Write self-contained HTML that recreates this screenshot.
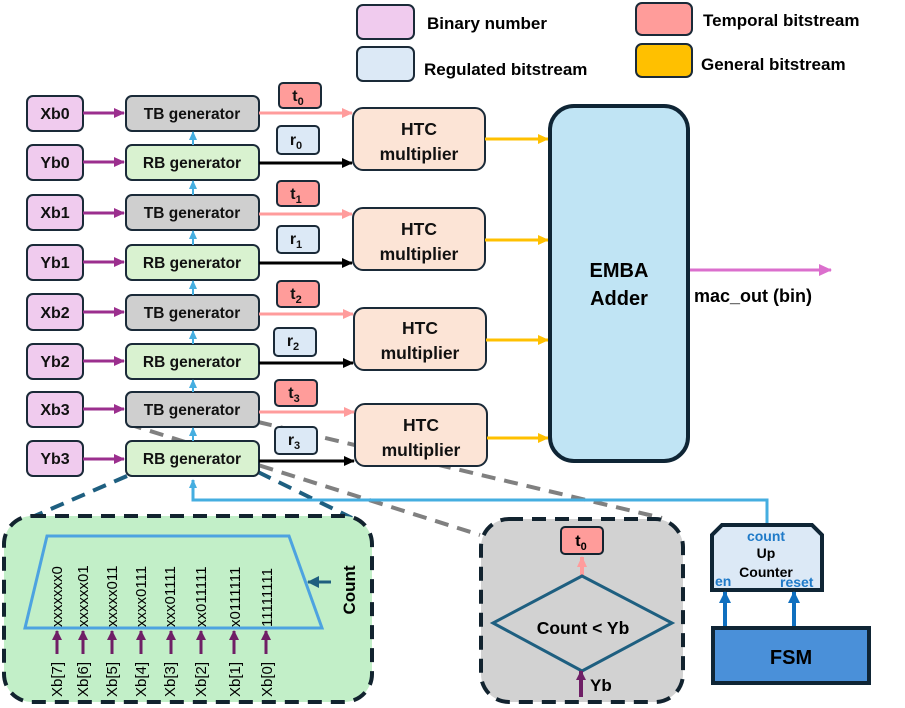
<!DOCTYPE html>
<html><head><meta charset="utf-8"><style>
html,body{margin:0;padding:0;background:#fff;}
svg{display:block;font-family:"Liberation Sans",sans-serif;font-weight:bold;}
</style></head><body>
<svg width="905" height="708" viewBox="0 0 905 708" xmlns="http://www.w3.org/2000/svg">
<defs>
<marker id="mp" markerWidth="12" markerHeight="12" refX="10" refY="5" orient="auto" markerUnits="userSpaceOnUse"><path d="M0,0 L11,5 L0,10 z" fill="#9b2f8e"/></marker>
<marker id="mpk" markerWidth="12" markerHeight="12" refX="10" refY="5" orient="auto" markerUnits="userSpaceOnUse"><path d="M0,0 L11,5 L0,10 z" fill="#ff9c9c"/></marker>
<marker id="mk" markerWidth="12" markerHeight="12" refX="10" refY="5" orient="auto" markerUnits="userSpaceOnUse"><path d="M0,0 L11,5 L0,10 z" fill="#000"/></marker>
<marker id="my" markerWidth="12" markerHeight="12" refX="10" refY="5" orient="auto" markerUnits="userSpaceOnUse"><path d="M0,0 L11,5 L0,10 z" fill="#ffc000"/></marker>
<marker id="mb" markerWidth="10" markerHeight="10" refX="8" refY="4" orient="auto" markerUnits="userSpaceOnUse"><path d="M0,0 L9,4 L0,8 z" fill="#45aee0"/></marker>
<marker id="mm" markerWidth="14" markerHeight="14" refX="12" refY="6" orient="auto" markerUnits="userSpaceOnUse"><path d="M0,0 L13,6 L0,12 z" fill="#db6fcd"/></marker>
<marker id="mdb" markerWidth="12" markerHeight="12" refX="11" refY="6" orient="auto" markerUnits="userSpaceOnUse"><path d="M0,0 L12,6 L0,12 z" fill="#0f6fbf"/></marker>
<marker id="mt" markerWidth="12" markerHeight="12" refX="11" refY="6" orient="auto" markerUnits="userSpaceOnUse"><path d="M0,0 L12,6 L0,12 z" fill="#1f5f7f"/></marker>
<marker id="mpu" markerWidth="10" markerHeight="10" refX="9" refY="5" orient="auto" markerUnits="userSpaceOnUse"><path d="M0,0 L10,5 L0,10 z" fill="#6f1f66"/></marker>
</defs>

<rect x="357" y="5" width="57" height="34" rx="6" fill="#f0cbee" stroke="#1a2a38" stroke-width="2"/>
<text x="427" y="29" font-size="17">Binary number</text>
<rect x="357" y="47" width="57" height="34" rx="6" fill="#dce9f6" stroke="#1a2a38" stroke-width="2"/>
<text x="424" y="75" font-size="17">Regulated bitstream</text>
<rect x="636" y="3" width="56" height="32" rx="6" fill="#ff9c9a" stroke="#1a2a38" stroke-width="2"/>
<text x="703" y="26" font-size="17">Temporal bitstream</text>
<rect x="636" y="44" width="56" height="33" rx="6" fill="#ffc000" stroke="#1a2a38" stroke-width="2"/>
<text x="701" y="70" font-size="17">General bitstream</text>

<g fill="none" stroke-width="4" stroke-dasharray="14,9">
<line x1="128" y1="424" x2="480" y2="535" stroke="#808080"/>
<line x1="258" y1="422" x2="662" y2="518" stroke="#808080"/>
<line x1="127" y1="476" x2="30" y2="518" stroke="#1e5f80"/>
<line x1="258" y1="472" x2="352" y2="518" stroke="#1e5f80"/>
</g>

<polyline points="767,525 767,500 193,500 193,480" fill="none" stroke="#45aee0" stroke-width="3" marker-end="url(#mb)"/>

<g stroke="#1a2a38" stroke-width="2">
<rect x="27" y="96" width="56" height="35" rx="6" fill="#f0cbee"/>
<rect x="27" y="145" width="56" height="35" rx="6" fill="#f0cbee"/>
<rect x="126" y="96" width="133" height="35" rx="6" fill="#cfcfcf"/>
<rect x="126" y="145" width="133" height="35" rx="6" fill="#d9f2d0"/>
<rect x="279" y="83" width="42" height="25" rx="4" fill="#ff9c9a"/>
<rect x="277" y="126" width="42" height="28" rx="4" fill="#dce9f6"/>
<rect x="353" y="108" width="132" height="62" rx="10" fill="#fce4d6"/>
<rect x="27" y="195" width="56" height="35" rx="6" fill="#f0cbee"/>
<rect x="27" y="245" width="56" height="35" rx="6" fill="#f0cbee"/>
<rect x="126" y="195" width="133" height="35" rx="6" fill="#cfcfcf"/>
<rect x="126" y="245" width="133" height="35" rx="6" fill="#d9f2d0"/>
<rect x="277" y="181" width="42" height="25" rx="4" fill="#ff9c9a"/>
<rect x="277" y="226" width="42" height="27" rx="4" fill="#dce9f6"/>
<rect x="353" y="208" width="132" height="62" rx="10" fill="#fce4d6"/>
<rect x="27" y="294" width="56" height="36" rx="6" fill="#f0cbee"/>
<rect x="27" y="344" width="56" height="35" rx="6" fill="#f0cbee"/>
<rect x="126" y="295" width="133" height="35" rx="6" fill="#cfcfcf"/>
<rect x="126" y="344" width="133" height="35" rx="6" fill="#d9f2d0"/>
<rect x="277" y="281" width="42" height="26" rx="4" fill="#ff9c9a"/>
<rect x="274" y="328" width="42" height="28" rx="4" fill="#dce9f6"/>
<rect x="354" y="308" width="132" height="62" rx="10" fill="#fce4d6"/>
<rect x="27" y="392" width="56" height="35" rx="6" fill="#f0cbee"/>
<rect x="27" y="441" width="56" height="35" rx="6" fill="#f0cbee"/>
<rect x="126" y="392" width="133" height="35" rx="6" fill="#cfcfcf"/>
<rect x="126" y="441" width="133" height="35" rx="6" fill="#d9f2d0"/>
<rect x="275" y="380" width="42" height="26" rx="4" fill="#ff9c9a"/>
<rect x="275" y="427" width="42" height="27" rx="4" fill="#dce9f6"/>
<rect x="355" y="404" width="132" height="62" rx="10" fill="#fce4d6"/>
</g>

<g font-size="16" text-anchor="middle" fill="#111">
<text x="55" y="119">Xb0</text><text x="55" y="168">Yb0</text>
<text x="55" y="218">Xb1</text><text x="55" y="268">Yb1</text>
<text x="55" y="318">Xb2</text><text x="55" y="367">Yb2</text>
<text x="55" y="415">Xb3</text><text x="55" y="464">Yb3</text>
<g font-size="15.5">
<text x="192" y="119">TB generator</text><text x="192" y="168">RB generator</text>
<text x="192" y="218">TB generator</text><text x="192" y="268">RB generator</text>
<text x="192" y="318">TB generator</text><text x="192" y="367">RB generator</text>
<text x="192" y="415">TB generator</text><text x="192" y="464">RB generator</text>
</g>
<g font-size="17.5">
<text x="419" y="135">HTC</text><text x="419" y="160">multiplier</text>
<text x="419" y="235">HTC</text><text x="419" y="260">multiplier</text>
<text x="420" y="334">HTC</text><text x="420" y="359">multiplier</text>
<text x="421" y="431">HTC</text><text x="421" y="456">multiplier</text>
</g>
<g font-size="16">
<text x="298" y="101">t<tspan font-size="11" dy="4">0</tspan></text>
<text x="296" y="145">r<tspan font-size="11" dy="4">0</tspan></text>
<text x="296" y="199">t<tspan font-size="11" dy="4">1</tspan></text>
<text x="296" y="244">r<tspan font-size="11" dy="4">1</tspan></text>
<text x="296" y="299">t<tspan font-size="11" dy="4">2</tspan></text>
<text x="293" y="346">r<tspan font-size="11" dy="4">2</tspan></text>
<text x="294" y="398">t<tspan font-size="11" dy="4">3</tspan></text>
<text x="294" y="445">r<tspan font-size="11" dy="4">3</tspan></text>
</g>
</g>

<g stroke-width="3" fill="none">
<g stroke="#9b2f8e" marker-end="url(#mp)">
<line x1="83" y1="113" x2="124" y2="113"/><line x1="83" y1="162" x2="124" y2="162"/>
<line x1="83" y1="213" x2="124" y2="213"/><line x1="83" y1="262" x2="124" y2="262"/>
<line x1="83" y1="312" x2="124" y2="312"/><line x1="83" y1="361" x2="124" y2="361"/>
<line x1="83" y1="409" x2="124" y2="409"/><line x1="83" y1="459" x2="124" y2="459"/>
</g>
<g stroke="#ff9c9c" marker-end="url(#mpk)">
<line x1="259" y1="113" x2="352" y2="113"/><line x1="259" y1="214" x2="352" y2="214"/>
<line x1="259" y1="314" x2="353" y2="314"/><line x1="259" y1="412" x2="354" y2="412"/>
</g>
<g stroke="#000" marker-end="url(#mk)">
<line x1="259" y1="163" x2="352" y2="163"/><line x1="259" y1="263" x2="352" y2="263"/>
<line x1="259" y1="363" x2="353" y2="363"/><line x1="259" y1="461" x2="354" y2="461"/>
</g>
<g stroke="#ffc000" marker-end="url(#my)">
<line x1="485" y1="139" x2="548" y2="139"/><line x1="485" y1="240" x2="548" y2="240"/>
<line x1="486" y1="340" x2="548" y2="340"/><line x1="487" y1="438" x2="548" y2="438"/>
</g>
<g stroke="#45aee0" stroke-width="2" marker-end="url(#mb)">
<line x1="193" y1="145" x2="193" y2="132"/><line x1="193" y1="195" x2="193" y2="181"/>
<line x1="193" y1="245" x2="193" y2="231"/><line x1="193" y1="295" x2="193" y2="281"/>
<line x1="193" y1="344" x2="193" y2="331"/><line x1="193" y1="392" x2="193" y2="380"/>
<line x1="193" y1="441" x2="193" y2="428"/>
</g>
<line x1="690" y1="270" x2="831" y2="270" stroke="#db6fcd" marker-end="url(#mm)"/>
</g>

<rect x="550" y="106" width="138" height="355" rx="24" fill="#c0e4f4" stroke="#0f2535" stroke-width="4"/>
<text x="619" y="277" font-size="20" text-anchor="middle">EMBA</text>
<text x="619" y="305" font-size="20" text-anchor="middle">Adder</text>
<text x="694" y="302" font-size="18">mac_out (bin)</text>

<rect x="4" y="516" width="368" height="186" rx="28" fill="#c2efc8" stroke="#12232f" stroke-width="4" stroke-dasharray="14,9"/>
<polygon points="47,536 289,536 322,628 25,628" fill="none" stroke="#4da3e0" stroke-width="3"/>
<line x1="331" y1="582" x2="308" y2="582" stroke="#1f5f7f" stroke-width="3" marker-end="url(#mt)"/>
<text transform="translate(355,590) rotate(-90)" font-size="17" text-anchor="middle">Count</text>
<g font-size="15" font-weight="normal" fill="#000">
<text transform="translate(62,627) rotate(-90)">xxxxxxx0</text>
<text transform="translate(88,627) rotate(-90)">xxxxxx01</text>
<text transform="translate(117,627) rotate(-90)">xxxxx011</text>
<text transform="translate(146,627) rotate(-90)">xxxx0111</text>
<text transform="translate(175,627) rotate(-90)">xxx01111</text>
<text transform="translate(206,627) rotate(-90)">xx011111</text>
<text transform="translate(240,627) rotate(-90)">x0111111</text>
<text transform="translate(272,627) rotate(-90)">11111111</text>
<text transform="translate(62,697) rotate(-90)">Xb[7]</text>
<text transform="translate(88,697) rotate(-90)">Xb[6]</text>
<text transform="translate(117,697) rotate(-90)">Xb[5]</text>
<text transform="translate(146,697) rotate(-90)">Xb[4]</text>
<text transform="translate(175,697) rotate(-90)">Xb[3]</text>
<text transform="translate(206,697) rotate(-90)">Xb[2]</text>
<text transform="translate(240,697) rotate(-90)">Xb[1]</text>
<text transform="translate(272,697) rotate(-90)">Xb[0]</text>
</g>
<g stroke="#6f1f66" stroke-width="3" marker-end="url(#mpu)">
<line x1="57" y1="654" x2="57" y2="631"/><line x1="83" y1="654" x2="83" y2="631"/>
<line x1="112" y1="654" x2="112" y2="631"/><line x1="141" y1="654" x2="141" y2="631"/>
<line x1="171" y1="654" x2="171" y2="631"/><line x1="201" y1="654" x2="201" y2="631"/>
<line x1="234" y1="654" x2="234" y2="631"/><line x1="266" y1="654" x2="266" y2="631"/>
</g>

<rect x="481" y="519" width="202" height="183" rx="28" fill="#d2d2d2" stroke="#12232f" stroke-width="4" stroke-dasharray="14,9"/>
<rect x="561" y="527" width="42" height="27" rx="4" fill="#ff9c9a" stroke="#12232f" stroke-width="2"/>
<text x="581" y="546" font-size="16" text-anchor="middle">t<tspan font-size="11" dy="4">0</tspan></text>
<line x1="582" y1="576" x2="582" y2="557" stroke="#ff9c9c" stroke-width="4" marker-end="url(#mpk)"/>
<polygon points="582,576 672,623 582,671 493,623" fill="none" stroke="#1e5f80" stroke-width="3"/>
<text x="583" y="634" font-size="17.5" text-anchor="middle">Count &lt; Yb</text>
<line x1="581" y1="697" x2="581" y2="671" stroke="#6f1f66" stroke-width="4" marker-end="url(#mpu)"/>
<text x="590" y="691" font-size="17">Yb</text>

<polygon points="722,525 812,525 822,535 822,590 712,590 712,535" fill="#dce9f6" stroke="#0f2535" stroke-width="4"/>
<text x="766" y="541" font-size="14" text-anchor="middle" fill="#1f7ac8">count</text>
<text x="766" y="558" font-size="14" text-anchor="middle">Up</text>
<text x="766" y="577" font-size="14" text-anchor="middle">Counter</text>
<text x="715" y="586" font-size="14" fill="#1f7ac8">en</text>
<text x="780" y="587" font-size="14" fill="#1f7ac8">reset</text>
<line x1="725" y1="627" x2="725" y2="592" stroke="#0f6fbf" stroke-width="4" marker-end="url(#mdb)"/>
<line x1="794" y1="627" x2="794" y2="592" stroke="#0f6fbf" stroke-width="4" marker-end="url(#mdb)"/>
<rect x="713" y="628" width="156" height="55" fill="#4a90d9" stroke="#0f2535" stroke-width="4"/>
<text x="791" y="664" font-size="20" text-anchor="middle">FSM</text>
</svg>
</body></html>
